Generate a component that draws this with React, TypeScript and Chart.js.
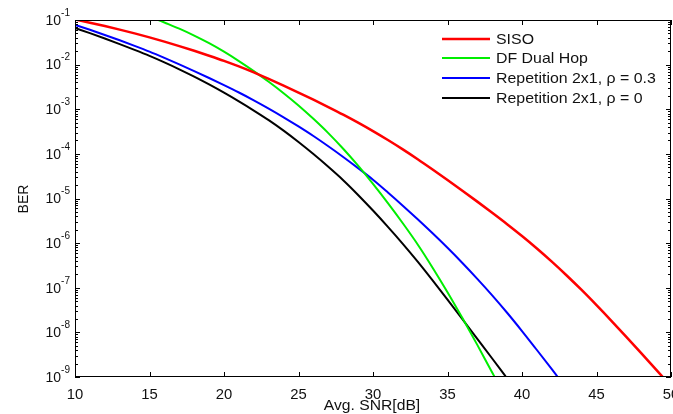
import React, { useEffect, useRef } from "react";
import { Chart, registerables } from "chart.js";

Chart.register(...registerables);

// ---- data (log10 of BER) ----
const sisoSnr = [10, 11, 12, 13, 14, 15, 16, 17, 18, 19, 20, 21, 22, 23, 24, 25, 26, 27, 28, 29, 30, 31, 32, 33, 34, 35, 36, 37, 38, 39, 40, 41, 42, 43, 44, 45, 46, 47, 48, 49, 49.5];
const sisoLogBer = [-0.99, -1.06, -1.135, -1.215, -1.3, -1.39, -1.485, -1.585, -1.69, -1.8, -1.915, -2.04, -2.175, -2.32, -2.47, -2.625, -2.785, -2.95, -3.12, -3.3, -3.49, -3.69, -3.9, -4.12, -4.35, -4.585, -4.825, -5.07, -5.32, -5.575, -5.84, -6.12, -6.415, -6.725, -7.05, -7.39, -7.74, -8.1, -8.465, -8.835, -9.02];

const dfSnr = [15.6, 16, 17, 18, 19, 20, 21, 22, 23, 24, 25, 26, 27, 28, 29, 30, 31, 32, 33, 34, 35, 36, 37, 38, 38.2];
const dfLogBer = [-1.0, -1.055, -1.195, -1.35, -1.52, -1.71, -1.92, -2.145, -2.385, -2.64, -2.915, -3.215, -3.535, -3.885, -4.265, -4.675, -5.105, -5.555, -6.03, -6.55, -7.1, -7.68, -8.28, -8.9, -9.02];

const rep03Snr = [10, 11, 12, 13, 14, 15, 16, 17, 18, 19, 20, 21, 22, 23, 24, 25, 26, 27, 28, 29, 30, 31, 32, 33, 34, 35, 36, 37, 38, 39, 40, 41, 42, 42.4];
const rep03LogBer = [-1.11, -1.22, -1.335, -1.455, -1.58, -1.71, -1.85, -1.995, -2.145, -2.3, -2.46, -2.625, -2.8, -2.985, -3.18, -3.385, -3.6, -3.83, -4.07, -4.32, -4.58, -4.865, -5.16, -5.465, -5.78, -6.105, -6.445, -6.8, -7.17, -7.56, -7.97, -8.395, -8.825, -9.0];

const rep0Snr = [10, 11, 12, 13, 14, 15, 16, 17, 18, 19, 20, 21, 22, 23, 24, 25, 26, 27, 28, 29, 30, 31, 32, 33, 34, 35, 36, 37, 38, 38.9];
const rep0LogBer = [-1.18, -1.295, -1.415, -1.54, -1.67, -1.805, -1.95, -2.105, -2.27, -2.445, -2.63, -2.825, -3.03, -3.245, -3.48, -3.735, -4.005, -4.29, -4.59, -4.92, -5.27, -5.635, -6.015, -6.415, -6.835, -7.265, -7.705, -8.145, -8.585, -8.985];

const seriesLabels = ["SISO", "DF Dual Hop", "Repetition 2x1, \u03c1 = 0.3", "Repetition 2x1, \u03c1 = 0"];
const seriesColors = ["#ff0000", "#00ee00", "#0000ff", "#000000"];
const seriesWidths = [2.5, 2, 2, 2];

const xTicks = [10, 15, 20, 25, 30, 35, 40, 45, 50];
const yDecades = [-1, -2, -3, -4, -5, -6, -7, -8, -9];

const xTitle = "Avg. SNR[dB]";
const yTitle = "BER";

const FONT = "'Liberation Sans', Arial, sans-serif";

function toPoints(xs: number[], ls: number[]) {
  return xs.map((x, i) => ({ x, y: Math.pow(10, ls[i]) }));
}

function wideText(ctx: CanvasRenderingContext2D, text: string, x: number, y: number, sx: number, align: "left" | "center" | "right") {
  ctx.save();
  ctx.translate(x, y);
  ctx.scale(sx, 1);
  ctx.textAlign = align;
  ctx.fillText(text, 0, 0);
  ctx.restore();
}

const decorPlugin = {
  id: "decor",
  afterDraw(chart: any) {
    const ctx = chart.ctx as CanvasRenderingContext2D;
    const { left, right, top, bottom } = chart.chartArea;
    const xs = chart.scales.x;
    const ys = chart.scales.y;
    ctx.save();
    ctx.strokeStyle = "#000";
    ctx.lineWidth = 1;
    // box
    ctx.strokeRect(Math.round(left) + 0.5, Math.round(top) + 0.5, Math.round(right - left) - 1, Math.round(bottom - top) - 1);
    // x ticks
    ctx.beginPath();
    xTicks.forEach((v) => {
      const px = Math.round(xs.getPixelForValue(v)) + 0.5;
      ctx.moveTo(px, bottom);
      ctx.lineTo(px, bottom - 5);
      ctx.moveTo(px, top);
      ctx.lineTo(px, top + 5);
    });
    // y ticks
    yDecades.forEach((d) => {
      const py = Math.round(ys.getPixelForValue(Math.pow(10, d))) + 0.5;
      ctx.moveTo(left, py);
      ctx.lineTo(left + 5, py);
      ctx.moveTo(right, py);
      ctx.lineTo(right - 5, py);
      if (d < -1) {
        for (let m = 2; m <= 9; m++) {
          const pm = Math.round(ys.getPixelForValue(m * Math.pow(10, d))) + 0.5;
          ctx.moveTo(left, pm);
          ctx.lineTo(left + 3, pm);
          ctx.moveTo(right, pm);
          ctx.lineTo(right - 3, pm);
        }
      }
    });
    ctx.stroke();

    ctx.fillStyle = "#111";
    ctx.textBaseline = "middle";

    // x tick labels
    ctx.font = `14px ${FONT}`;
    xTicks.forEach((v) => {
      wideText(ctx, String(v), xs.getPixelForValue(v), 395, 1.06, "center");
    });

    // y labels
    yDecades.forEach((d) => {
      const py = ys.getPixelForValue(Math.pow(10, d));
      const sup = String(d);
      ctx.font = `10px ${FONT}`;
      const supW = ctx.measureText(sup).width;
      const supX = left - 5 - supW;
      ctx.textAlign = "left";
      ctx.fillText(sup, supX, py - 7);
      ctx.font = `14px ${FONT}`;
      ctx.textAlign = "right";
      ctx.fillText("10", supX, py + 1);
    });

    // axis titles
    ctx.font = `14px ${FONT}`;
    wideText(ctx, xTitle, 372, 406, 1.12, "center");
    ctx.save();
    ctx.translate(24, 199);
    ctx.rotate(-Math.PI / 2);
    ctx.textAlign = "center";
    ctx.fillText(yTitle, 0, 0);
    ctx.restore();

    // legend
    const rowY = [39, 58, 78, 98];
    ctx.font = `15px ${FONT}`;
    chart.data.datasets.forEach((ds: any, i: number) => {
      ctx.strokeStyle = ds.borderColor;
      ctx.lineWidth = ds.borderWidth;
      ctx.beginPath();
      ctx.moveTo(442, rowY[i]);
      ctx.lineTo(490, rowY[i]);
      ctx.stroke();
      ctx.fillStyle = "#111";
      wideText(ctx, ds.label, 496, rowY[i] + 1, 1.06, "left");
    });
    ctx.restore();
  },
};

export default function App() {
  const ref = useRef<HTMLCanvasElement | null>(null);
  useEffect(() => {
    if (!ref.current) return;
    const series = [
      toPoints(sisoSnr, sisoLogBer),
      toPoints(dfSnr, dfLogBer),
      toPoints(rep03Snr, rep03LogBer),
      toPoints(rep0Snr, rep0LogBer),
    ];
    const chart = new Chart(ref.current, {
      type: "line",
      data: {
        datasets: series.map((pts, i) => ({
          label: seriesLabels[i],
          data: pts,
          borderColor: seriesColors[i],
          backgroundColor: seriesColors[i],
          borderWidth: seriesWidths[i],
          pointRadius: 0,
          cubicInterpolationMode: "monotone" as const,
          fill: false,
        })),
      },
      options: {
        animation: false,
        responsive: false,
        layout: { padding: { top: 20, right: 2, left: 0, bottom: 0 } },
        plugins: { legend: { display: false }, tooltip: { enabled: false } },
        scales: {
          x: {
            type: "linear",
            min: 10,
            max: 50,
            grid: { display: false, drawTicks: false },
            border: { display: false },
            ticks: { display: false, stepSize: 5 },
            afterFit: (s: any) => {
              s.height = 37;
            },
          },
          y: {
            type: "logarithmic",
            min: 1e-9,
            max: 1e-1,
            grid: { display: false, drawTicks: false },
            border: { display: false },
            ticks: { display: false },
            afterFit: (s: any) => {
              s.width = 75;
            },
          },
        },
      },
      plugins: [decorPlugin],
    });
    return () => chart.destroy();
  }, []);
  return (
    <div style={{ position: "fixed", left: 0, top: 0, width: 673, height: 414, background: "#fff" }}>
      <canvas ref={ref} width={673} height={414} style={{ width: 673, height: 414, display: "block" }} />
    </div>
  );
}
